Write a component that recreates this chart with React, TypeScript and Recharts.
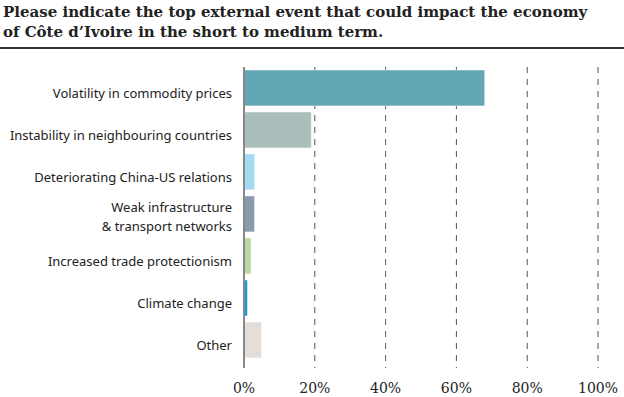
import React from "react";
import { BarChart, Bar, XAxis, YAxis, CartesianGrid, Cell } from "recharts";

const categories: string[] = [
  "Volatility in commodity prices",
  "Instability in neighbouring countries",
  "Deteriorating China-US relations",
  "Weak infrastructure\n& transport networks",
  "Increased trade protectionism",
  "Climate change",
  "Other",
];
const values: number[] = [68, 19, 3, 3, 2, 1, 5];
const colors: string[] = ["#62a8b4", "#aabfbc", "#a4daf2", "#8a9bb0", "#b7d8a3", "#1a9ad6", "#e5ddd8"];
const xTicks: number[] = [0, 20, 40, 60, 80, 100];

const data = categories.map((c, i) => ({ name: c, value: values[i] }));

const YTick = (props: any) => {
  const { x, y, payload } = props;
  const lines = String(payload.value).split("\n");
  const lh = 19;
  const start = lines.length > 1 ? -2.5 : 10;
  return (
    <text x={x} y={y} textAnchor="end" fill="#222" fontFamily="'Noto Sans', sans-serif" fontSize={13}>
      {lines.map((l, i) => (
        <tspan key={i} x={x} dy={i === 0 ? start : lh}>
          {l}
        </tspan>
      ))}
    </text>
  );
};

export default function App() {
  return (
    <div style={{ position: "absolute", left: 0, top: 0, width: 624, height: 397, background: "#fff" }}>
      <div
        style={{
          position: "absolute",
          left: 3,
          top: 2,
          fontFamily: "'DejaVu Serif', serif",
          fontWeight: "bold",
          fontSize: 15,
          lineHeight: "20px",
          color: "#222",
          whiteSpace: "nowrap",
        }}
      >
        Please indicate the top external event that could impact the economy
        <br />
        of Côte d’Ivoire in the short to medium term.
      </div>
      <div style={{ position: "absolute", left: 0, top: 47, width: 624, height: 2, background: "#333" }} />
      <div style={{ position: "absolute", left: 0, top: 0 }}>
        <BarChart
          width={624}
          height={397}
          data={data}
          layout="vertical"
          margin={{ top: 67, right: 26, left: 0, bottom: 0 }}
          barCategoryGap="7%"
        >
          <CartesianGrid horizontal={false} vertical={true} stroke="#555" strokeDasharray="6 6" />
          <XAxis
            type="number"
            domain={[0, 100]}
            ticks={xTicks}
            tickFormatter={(v: number) => `${v}%`}
            axisLine={false}
            tickLine={false}
            height={29}
            tickMargin={9}
            tick={{ fill: "#222", fontFamily: "'DejaVu Serif', serif", fontSize: 14 }}
          />
          <YAxis
            type="category"
            dataKey="name"
            width={244}
            axisLine={{ stroke: "#888", strokeWidth: 2 }}
            tickLine={false}
            tickSize={0}
            tickMargin={12}
            padding={{ top: 0, bottom: 7 }}
            tick={<YTick />}
            interval={0}
          />
          <Bar dataKey="value" isAnimationActive={false} stroke="#ffffff" strokeOpacity={0.5}>
            {data.map((_, i) => (
              <Cell key={i} fill={colors[i]} />
            ))}
          </Bar>
        </BarChart>
      </div>
    </div>
  );
}
